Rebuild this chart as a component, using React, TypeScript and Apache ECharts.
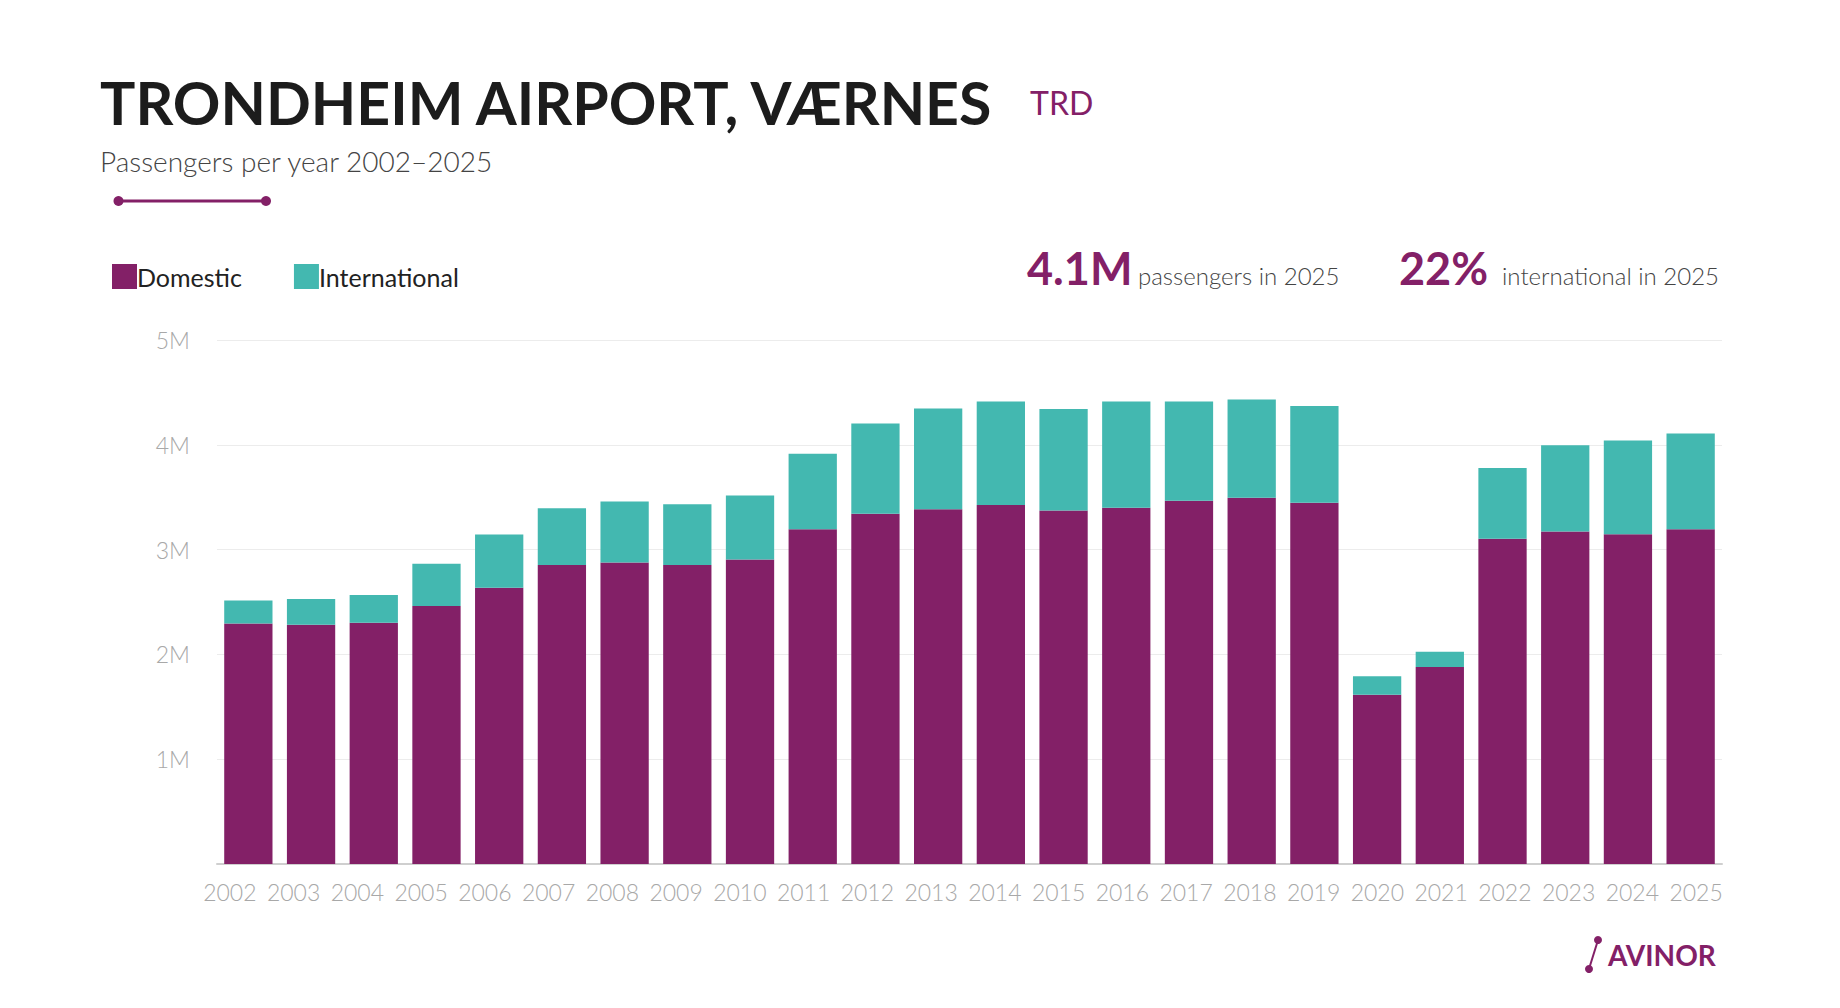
import React, { useEffect, useRef } from 'react';
import * as echarts from 'echarts';

// Passengers per year, Trondheim Airport Værnes
const years = [
  '2002', '2003', '2004', '2005', '2006', '2007', '2008', '2009', '2010', '2011', '2012', '2013',
  '2014', '2015', '2016', '2017', '2018', '2019', '2020', '2021', '2022', '2023', '2024', '2025'
];
const domestic = [
  2295000, 2284000, 2303000, 2463000, 2635000, 2854000, 2876000, 2854000, 2906000, 3194000, 3341000, 3385000,
  3425000, 3374000, 3399000, 3465000, 3494000, 3447000, 1615000, 1879000, 3103000, 3173000, 3147000, 3194000
];
const international = [
  220000, 245000, 263000, 402000, 508000, 541000, 582000, 578000, 610000, 720000, 862000, 961000,
  987000, 968000, 1013000, 947000, 939000, 924000, 176000, 146000, 676000, 822000, 895000, 914000
];
const yTicks = [0, 1000000, 2000000, 3000000, 4000000, 5000000];

const PURPLE = '#832067';
const TEAL = '#43b8b0';
const FONT = 'Lato, "Open Sans", sans-serif';

export default function App() {
  const chartRef = useRef<HTMLDivElement>(null);

  useEffect(() => {
    if (!chartRef.current) return;
    document.body.style.margin = '0';

    const chart = echarts.init(chartRef.current, null, { renderer: 'svg' });

    const last = years.length - 1;
    const total = domestic[last] + international[last];
    const totalLabel = (total / 1e6).toFixed(1) + 'M';
    const intlShare = Math.round((international[last] / total) * 100) + '%';

    const yMin = yTicks[0];
    const yMax = yTicks[yTicks.length - 1];

    const option: echarts.EChartsOption = {
      animation: false,
      backgroundColor: '#ffffff',
      textStyle: { fontFamily: FONT },
      grid: [
        // bars
        { left: 217, right: 118, top: 340, bottom: 144 },
        // year labels sit on a slightly wider band than the bars
        { left: 198, right: 112, top: 340, bottom: 144 }
      ],
      legend: {
        left: 107,
        top: 259,
        itemWidth: 25,
        itemHeight: 25,
        itemGap: 52,
        icon: 'rect',
        data: ['Domestic', 'International'],
        textStyle: {
          fontFamily: FONT,
          fontSize: 25,
          color: '#222',
          padding: [0, 0, 0, -5]
        }
      },
      xAxis: [
        {
          type: 'category',
          gridIndex: 0,
          data: years,
          axisTick: { show: false },
          axisLine: { lineStyle: { color: '#cfcfcf', width: 2 } },
          axisLabel: { show: false }
        },
        {
          type: 'category',
          gridIndex: 1,
          data: years,
          axisTick: { show: false },
          axisLine: { show: false },
          axisLabel: {
            color: '#a8a8a8',
            fontFamily: FONT,
            fontWeight: 300,
            fontSize: 23,
            margin: 16,
            interval: 0
          }
        }
      ],
      yAxis: [
        {
          type: 'value',
          gridIndex: 0,
          min: yMin,
          max: yMax,
          interval: 1000000,
          axisLine: { show: false },
          axisTick: { show: false },
          splitLine: { lineStyle: { color: '#ececec', width: 1 } },
          axisLabel: {
            color: '#a8a8a8',
            fontFamily: FONT,
            fontWeight: 300,
            fontSize: 23,
            margin: 27,
            formatter: (v: number) => (v === 0 ? '' : v / 1e6 + 'M')
          }
        },
        {
          type: 'value',
          gridIndex: 1,
          min: yMin,
          max: yMax,
          show: false
        }
      ],
      series: [
        {
          name: 'Domestic',
          type: 'bar',
          stack: 'total',
          data: domestic,
          barCategoryGap: '23%',
          itemStyle: { color: PURPLE }
        },
        {
          name: 'International',
          type: 'bar',
          stack: 'total',
          data: international,
          barCategoryGap: '23%',
          itemStyle: { color: TEAL }
        }
      ],
      graphic: [
        {
          type: 'text',
          left: 100,
          top: 73,
          style: {
            text: 'TRONDHEIM AIRPORT, VÆRNES',
            fontFamily: FONT,
            fontWeight: 'bold',
            fontSize: 59,
            fill: '#1c1c1c'
          }
        },
        {
          type: 'text',
          left: 1030,
          top: 86,
          style: {
            text: 'TRD',
            fontFamily: FONT,
            fontSize: 32,
            fill: PURPLE
          }
        },
        {
          type: 'text',
          left: 100,
          top: 147,
          style: {
            text: 'Passengers per year 2002–2025',
            fontFamily: FONT,
            fontWeight: 300,
            fontSize: 28,
            fill: '#444'
          }
        },
        {
          type: 'line',
          shape: { x1: 118.5, y1: 201, x2: 266, y2: 201 },
          style: { stroke: PURPLE, lineWidth: 3 }
        },
        { type: 'circle', shape: { cx: 118.5, cy: 201, r: 5 }, style: { fill: PURPLE } },
        { type: 'circle', shape: { cx: 266, cy: 201, r: 5 }, style: { fill: PURPLE } },
        {
          type: 'text',
          left: 1027,
          top: 245,
          style: {
            text: totalLabel,
            fontFamily: FONT,
            fontWeight: 'bold',
            fontSize: 45,
            fill: PURPLE
          }
        },
        {
          type: 'text',
          left: 1138,
          top: 263,
          style: {
            text: 'passengers in 2025',
            fontFamily: FONT,
            fontWeight: 300,
            fontSize: 24,
            fill: '#444'
          }
        },
        {
          type: 'text',
          left: 1399,
          top: 245,
          style: {
            text: intlShare,
            fontFamily: FONT,
            fontWeight: 'bold',
            fontSize: 45,
            fill: PURPLE
          }
        },
        {
          type: 'text',
          left: 1502,
          top: 263,
          style: {
            text: 'international in 2025',
            fontFamily: FONT,
            fontWeight: 300,
            fontSize: 24,
            fill: '#444'
          }
        },
        // Avinor logo
        {
          type: 'line',
          shape: { x1: 1589, y1: 969, x2: 1598, y2: 940 },
          style: { stroke: PURPLE, lineWidth: 2 }
        },
        { type: 'circle', shape: { cx: 1589, cy: 969, r: 4 }, style: { fill: PURPLE } },
        { type: 'circle', shape: { cx: 1598, cy: 940, r: 4 }, style: { fill: PURPLE } },
        {
          type: 'text',
          left: 1608,
          top: 941,
          style: {
            text: 'AVINOR',
            fontFamily: FONT,
            fontWeight: 'bold',
            fontSize: 28,
            fill: PURPLE
          }
        }
      ]
    };

    chart.setOption(option);

    const handleResize = () => chart.resize();
    window.addEventListener('resize', handleResize);

    return () => {
      window.removeEventListener('resize', handleResize);
      chart.dispose();
    };
  }, []);

  return <div ref={chartRef} style={{ width: '1840px', height: '1008px' }} />;
}
